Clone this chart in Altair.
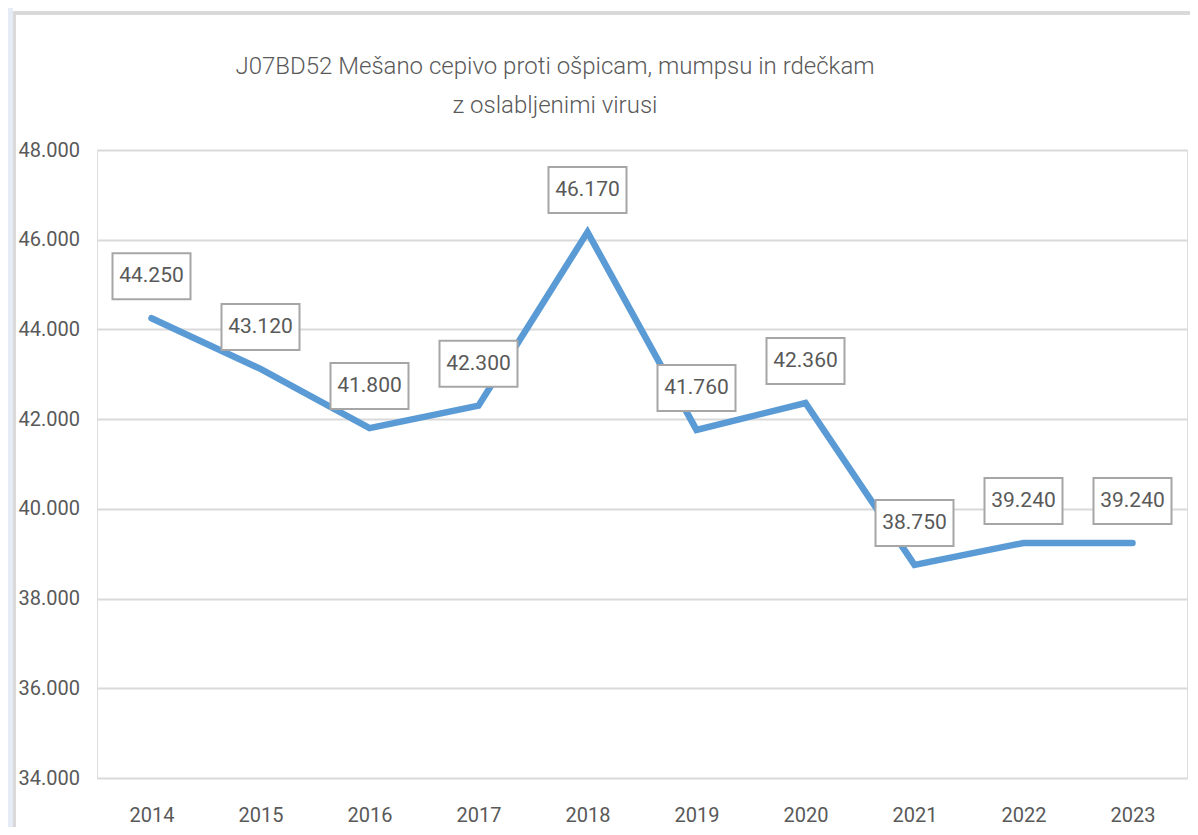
import altair as alt
import pandas as pd

years = ["2014", "2015", "2016", "2017", "2018", "2019", "2020", "2021", "2022", "2023"]
values = [44250, 43120, 41800, 42300, 46170, 41760, 42360, 38750, 39240, 39240]
y_ticks = [34000, 36000, 38000, 40000, 42000, 44000, 46000, 48000]
title_lines = ["J07BD52  Mešano cepivo proti ošpicam, mumpsu in rdečkam", "z oslabljenimi virusi"]

df = pd.DataFrame({"year": years, "value": values})
df["label"] = [f"{v:,}".replace(",", ".") for v in values]

FONT = "Roboto"
TXT = "#595959"

x_enc = alt.X("year:N", sort=years, scale=alt.Scale(type="point", padding=0.5),
              axis=alt.Axis(title=None, labelAngle=0, ticks=False, domain=False,
                            labelFontSize=20, labelColor=TXT, labelFont=FONT, labelPadding=27))
y_enc = alt.Y("value:Q", scale=alt.Scale(domain=[34000, 48000], nice=False, zero=False),
              axis=alt.Axis(title=None, values=y_ticks, ticks=False, domain=False,
                            labelExpr="replace(format(datum.value, ',.0f'), ',', '.')",
                            labelFontSize=20, labelColor=TXT, labelFont=FONT,
                            labelAlign="left", labelPadding=79,
                            gridColor="#D9D9D9", gridWidth=2))

base = alt.Chart(df)

frame = base.mark_rect(fill=None, stroke="#D9D9D9", strokeWidth=3).encode(
    x=alt.value(-83), x2=alt.value(1120), y=alt.value(-137), y2=alt.value(720))
strip = base.mark_rect(fill="#E6ECF6").encode(
    x=alt.value(-89), x2=alt.value(-84.5), y=alt.value(-142), y2=alt.value(720))

line = base.mark_line(color="#5B9BD5", strokeWidth=6.5, strokeCap="round", strokeJoin="miter").encode(
    x=x_enc, y=y_enc)

boxes = base.mark_point(
    shape="M-1,-0.59L1,-0.59L1,0.59L-1,0.59Z", size=6084, filled=False, fill="white",
    fillOpacity=1, opacity=1, stroke="#A6A6A6", strokeWidth=2, yOffset=-42
).encode(x=alt.X("year:N", sort=years), y="value:Q")

labels = base.mark_text(fontSize=21, font=FONT, color=TXT, dy=-42, baseline="middle").encode(
    x=alt.X("year:N", sort=years), y="value:Q", text="label:N")

chart = alt.layer(frame, strip, line, boxes, labels).properties(
    width=1090, height=628,
    title=alt.TitleParams(text=title_lines, fontSize=24, font=FONT, color=TXT,
                          fontWeight=300, lineHeight=39, anchor="middle",
                          dx=-87, offset=-110),
    autosize=alt.AutoSizeParams(type="none"),
    padding={"left": 89, "top": 142, "right": 3, "bottom": 49},
).configure_view(stroke=None).configure(background="white")

chart.save("out.html", embed_options={"renderer": "svg", "actions": False})
